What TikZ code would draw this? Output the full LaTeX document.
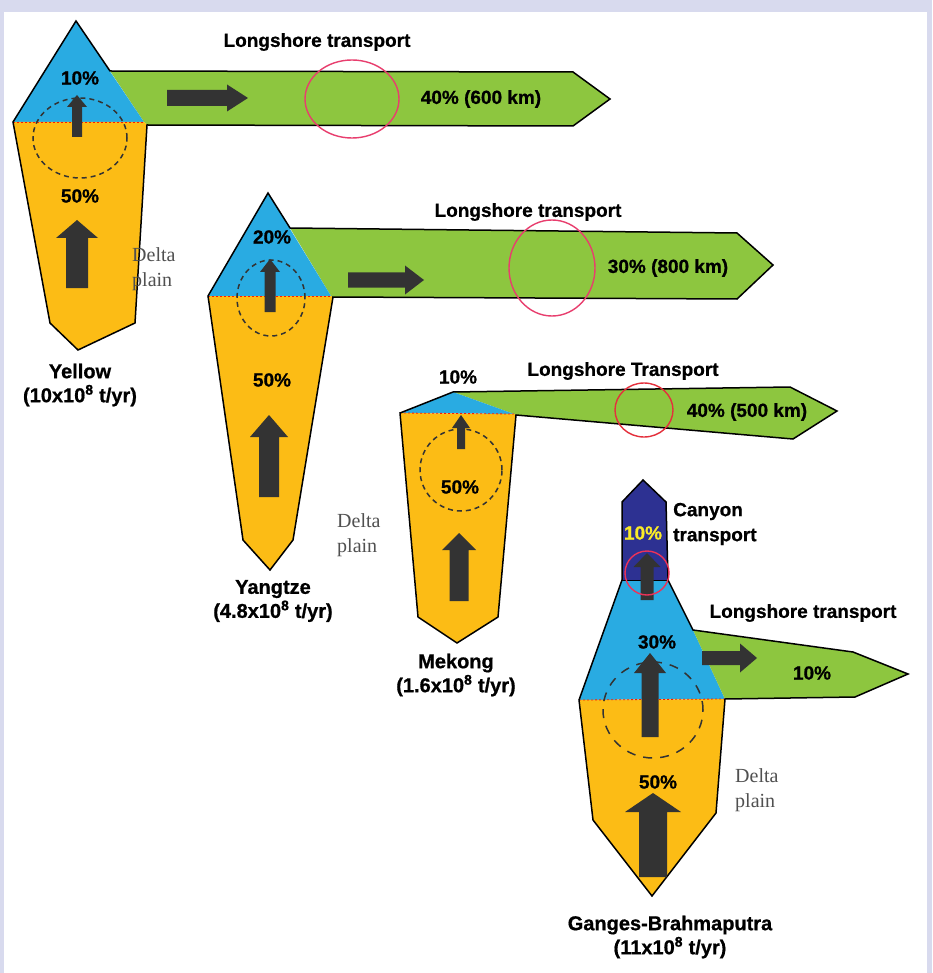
\documentclass[tikz,border=0pt]{standalone}
\usepackage{fontspec}
\setmainfont{Liberation Sans}[BoldFeatures={FakeBold=0.8}]
\newfontfamily\plainfont{Liberation Serif}
\usepackage{tikz}

\definecolor{framebg}{RGB}{216,218,238}
\definecolor{seablue}{RGB}{41,171,226}
\definecolor{sand}{RGB}{252,188,21}
\definecolor{shelfgreen}{RGB}{141,198,63}
\definecolor{canyonnavy}{RGB}{45,49,146}
\definecolor{arrowgray}{RGB}{51,51,51}
\definecolor{ringpink}{RGB}{232,62,110}
\definecolor{ringred}{RGB}{228,48,60}
\definecolor{pctyellow}{RGB}{250,235,40}
\definecolor{deltagray}{RGB}{80,80,80}

\begin{document}
\begin{tikzpicture}[x=1pt,y=-1pt,
  bluezone/.style={fill=seablue},sandzone/.style={fill=sand},greenband/.style={fill=shelfgreen},canyonzone/.style={fill=canyonnavy},
  outl/.style={draw=black,line width=1.5pt,line join=miter},
  wline/.style={draw=red!80!orange,line width=0.8pt,dash pattern=on 2pt off 2pt},
  dcirc/.style={draw=arrowgray,line width=1.5pt,dash pattern=on 5pt off 4pt},
  darr/.style={fill=arrowgray},
  ring/.style={draw=#1,line width=1.4pt},
  lbl/.style={font=\bfseries\fontsize{19}{22}\selectfont,inner sep=0pt},
  rname/.style={font=\bfseries\fontsize{20}{24}\selectfont,align=center,inner sep=0pt},
  dlt/.style={font=\plainfont\fontsize{20}{25}\selectfont,text=deltagray,align=left,anchor=west,inner sep=0pt}]

\fill[framebg] (0,0) rectangle (932,973);
\fill[white] (4,12) rectangle (927,973);

% Yellow
\fill[greenband] (110,71) -- (573,72) -- (610,99) -- (573,126) -- (147,125) -- (144,122) -- cycle;
\fill[bluezone] (76,21) -- (13,122) -- (144,122) -- cycle;
\fill[sandzone] (13,122) -- (144,122) -- (147,125) -- (135,323) -- (78,350) -- (50,323) -- cycle;
\draw[wline] (13,122) -- (144,122);
\draw[outl] (76,21) -- (110,71) -- (573,72) -- (610,99) -- (573,126) -- (147,125) -- (135,323) -- (78,350) -- (50,323) -- (13,122) -- cycle;

% Yangtze
\fill[greenband] (290,228) -- (737,233) -- (773,265) -- (737,299) -- (333,297) -- (331,296) -- cycle;
\fill[bluezone] (268,193) -- (208,296) -- (331,296) -- cycle;
\fill[sandzone] (208,296) -- (331,296) -- (333,297) -- (293,540) -- (270,570) -- (243,540) -- cycle;
\draw[wline] (208,296) -- (331,296);
\draw[outl] (268,193) -- (290,228) -- (737,233) -- (773,265) -- (737,299) -- (333,297) -- (293,540) -- (270,570) -- (243,540) -- (208,296) -- cycle;

% Mekong
\fill[greenband] (453,392) -- (790,387) -- (837,411) -- (793,439) -- (516,415) -- (514,414) -- cycle;
\fill[bluezone] (453,392) -- (400,413) -- (514,414) -- cycle;
\fill[sandzone] (400,413) -- (514,414) -- (516,415) -- (498,617) -- (457,643) -- (418,617) -- cycle;
\draw[wline] (400,413) -- (514,414);
\draw[outl] (453,392) -- (790,387) -- (837,411) -- (793,439) -- (516,415) -- (498,617) -- (457,643) -- (418,617) -- (400,413) -- cycle;

% Ganges-Brahmaputra
\fill[canyonzone] (643,480) -- (666,502) -- (668,580) -- (622,580) -- (622,502) -- cycle;
\fill[bluezone] (622,580) -- (668,580) -- (693,630) -- (725,699) -- (579,700) -- cycle;
\fill[greenband] (693,630) -- (853,652) -- (908,674) -- (855,697) -- (725,699) -- cycle;
\fill[sandzone] (579,700) -- (725,699) -- (716,813) -- (652,896) -- (593,820) -- cycle;
\draw[wline] (579,700) -- (725,699);
\draw[line width=0.8pt] (622,580) -- (668,580);
\draw[outl] (643,480) -- (666,502) -- (668,580) -- (693,630) -- (853,652) -- (908,674) -- (855,697) -- (725,699) -- (716,813) -- (652,896) -- (593,820) -- (579,700) -- (622,580) -- (622,502) -- cycle;

% dashed circles
\draw[dcirc] (80,138) ellipse [x radius=47pt,y radius=40pt];
\draw[dcirc] (271,298) ellipse [x radius=34pt,y radius=38pt];
\draw[dcirc] (461,470) ellipse [x radius=41pt,y radius=41pt];
\draw[dcirc,dash pattern=on 9pt off 8pt] (653,710) ellipse [x radius=50pt,y radius=48pt];

% block arrows
\foreach \x/\b/\h/\t/\s/\w in %
{77/137/107/95/5/10, 77/288/238/220/11/21, 270/312/272/259/5.5/10, 269/497/437/415/10/19,
 461/449/428/415/4/9, 459/601/550/533/9.5/17, 647/600/567/553/6.5/13.5, 650/737/673/653/8.5/16,
 653/877/812/793/14/28} {
   \fill[darr] (\x-\s,\b) -- (\x-\s,\h) -- (\x-\w,\h) -- (\x,\t) -- (\x+\w,\h) -- (\x+\s,\h) -- (\x+\s,\b) -- cycle;
}
\foreach \y/\a/\h/\t/\s/\w in %
{98/167/227/248/8/13.5, 280/348/405/424/7.5/14.5, 658/702/740/757/7/14.5} {
   \fill[darr] (\a,\y-\s) -- (\h,\y-\s) -- (\h,\y-\w) -- (\t,\y) -- (\h,\y+\w) -- (\h,\y+\s) -- (\a,\y+\s) -- cycle;
}

% red rings
\draw[ring=ringpink] (352,99) ellipse [x radius=47pt,y radius=39pt];
\draw[ring=ringpink] (552,268) ellipse [x radius=43pt,y radius=48pt];
\draw[ring=ringred] (644,410) ellipse [x radius=29pt,y radius=27pt];
\draw[ring=ringpink!80!red] (647,573) ellipse [x radius=22pt,y radius=22pt];

% labels
\node[lbl] (yel-long) at (317,42) {Longshore transport};
\node[lbl] (yel-top) at (80,78) {10\%};
\node[lbl] (yel-shelf) at (481,99) {40\% (600 km)};
\node[lbl] (yel-plain) at (80,196) {50\%};
\node[dlt] (yel-delta) at (132,269) {Delta\\plain};
\node[rname] (yel-name) at (80,385) {Yellow\\(10x10\textsuperscript{8} t/yr)};

\node[lbl] (yan-long) at (528,212) {Longshore transport};
\node[lbl] (yan-top) at (272,237) {20\%};
\node[lbl] (yan-shelf) at (668,268) {30\% (800 km)};
\node[lbl] (yan-plain) at (272,380) {50\%};
\node[dlt] (yan-delta) at (337,535) {Delta\\plain};
\node[rname] (yan-name) at (273,601) {Yangtze\\(4.8x10\textsuperscript{8} t/yr)};

\node[lbl] (mek-top) at (458,377) {10\%};
\node[lbl] (mek-long) at (623,371) {Longshore Transport};
\node[lbl] (mek-shelf) at (747,412) {40\% (500 km)};
\node[lbl] (mek-plain) at (460,487) {50\%};
\node[rname] (mek-name) at (456,675) {Mekong\\(1.6x10\textsuperscript{8} t/yr)};

\node[lbl,anchor=west,align=left,font=\bfseries\fontsize{19}{25}\selectfont] (gan-canyon) at (673,524) {Canyon\\transport};
\node[lbl,text=pctyellow] (gan-cpct) at (643,533) {10\%};
\node[lbl] (gan-long) at (803,613) {Longshore transport};
\node[lbl] (gan-top) at (657,642) {30\%};
\node[lbl] (gan-shelf) at (812,673) {10\%};
\node[lbl] (gan-plain) at (658,782) {50\%};
\node[dlt] (gan-delta) at (735,790) {Delta\\plain};
\node[rname] (gan-name) at (670,937) {Ganges-Brahmaputra\\(11x10\textsuperscript{8} t/yr)};
\end{tikzpicture}
\end{document}
